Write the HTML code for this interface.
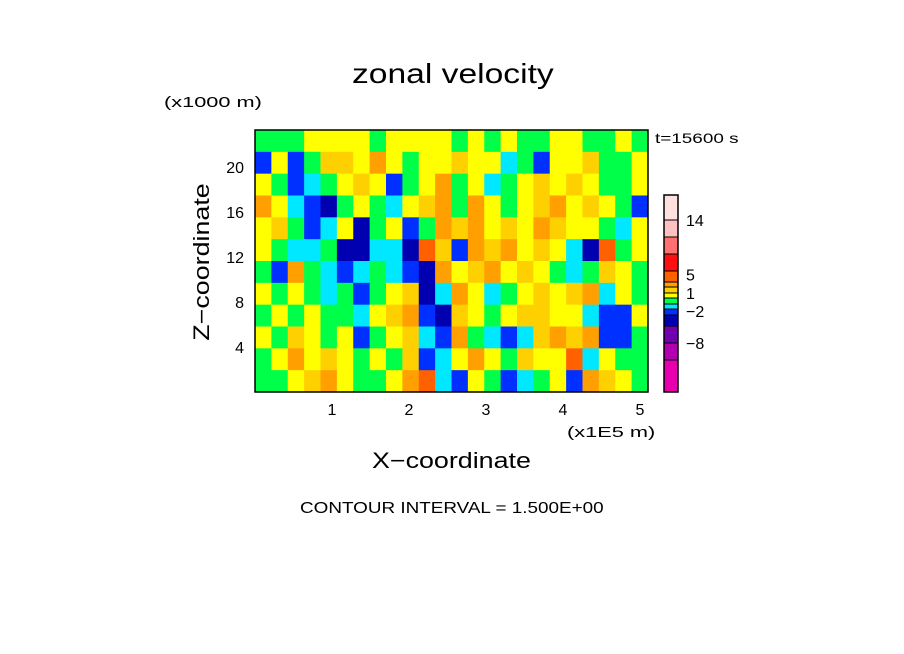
<!DOCTYPE html>
<html><head><meta charset="utf-8"><style>
body{margin:0;background:#fff;}
#c{position:relative;width:904px;height:654px;overflow:hidden;background:#fff;font-family:"Liberation Sans",sans-serif;color:#000}
.t{position:absolute;white-space:nowrap;transform-origin:0 0}
</style></head><body>
<div id="c">
<div class="t" style="left:352px;top:58px;font-size:28px;transform:scaleX(1.2)">zonal velocity</div>
<div class="t" style="left:164px;top:94px;font-size:15px;transform:scaleX(1.45)">(x1000 m)</div>
<div class="t" style="left:655px;top:130px;font-size:14px;transform:scaleX(1.35)">t=15600 s</div>
<div class="t" style="left:567px;top:424px;font-size:15px;transform:scaleX(1.45)">(x1E5 m)</div>
<div class="t" style="left:372px;top:448px;font-size:22px;transform:scaleX(1.22)">X&#8722;coordinate</div>
<div class="t" style="left:202px;top:262px;font-size:22px;transform:translate(-50%,-50%) rotate(-90deg) scaleX(1.22);transform-origin:50% 50%">Z&#8722;coordinate</div>
<div class="t" style="left:300px;top:500px;font-size:16px;transform:scaleX(1.18)">CONTOUR INTERVAL = 1.500E+00</div>
<svg id="s" width="904" height="654" style="position:absolute;left:0;top:0"></svg>
</div>
<script>
const xTicks=[1,2,3,4,5];
const zTicks=[4,8,12,16,20];
const cbLabels=["14","5","1","\u22122","\u22128"];
const cbLabelVals=[14,5,1,-2,-8];
const levelColors=["#e800b0","#b000b0","#7000b0","#0000b0","#0030ff","#00e8ff","#00ff48","#ffff00","#ffd000","#ffa000","#ff6000","#ff1010","#ff7070","#ffc0c0","#ffe0e0"];
const levelBounds=[-11,-9.5,-8,-6.5,-5,-3.5,-2,-0.5,1,2.5,4,5.5,7,10,13,17];
const codeVals={N:-5.7,B:-4.2,C:-2.7,G:-1.2,Y:0.2,L:1.7,O:3.2,R:4.7};
const fieldRows=[
"GGGYYYYGYYYYGYGYGGYYGGYG",
"BYBGLLYOYGYYLYYCGBYYLGGY",
"YGBCGYLYBGYOGYCGYLYLYGGY",
"OYCBNGYGCYLOGOYGYLOYLYGB",
"YLGBCYNGYBGOLOYLYOLYYGCY",
"YGCCGNNCCNRLBOLOYLYCNRGY",
"GBOGCBCGCBNOYLOYLYGCGLYG",
"YGYGCGBGYLNCOYCGYLYLOCYG",
"GYGYGGCYLOBNLYGYLLYYCBBY",
"YGLYGYBGYLCBOGCBCLOLOBBG",
"GYOYLYGYGLBCYOYGLYYRCYGG",
"GGYLOYGGYORCBYGBCGYBOLYG"];
const X0=255,X1=648,Y0=130,Y1=392,XMAX=(648-255)/77,ZMAX=(392-130)/11.25;
const sx=v=>X0+v/XMAX*(X1-X0), sz=v=>Y1-v/ZMAX*(Y1-Y0);
const svg=document.getElementById('s');const NS="http://www.w3.org/2000/svg";
function mk(t,a){const e=document.createElementNS(NS,t);for(const k in a)e.setAttribute(k,a[k]);svg.appendChild(e);return e;}
function colorFor(v){for(let i=0;i<levelColors.length;i++){if(v<levelBounds[i+1])return levelColors[i];}return levelColors[levelColors.length-1];}
const nr=fieldRows.length,nc=fieldRows[0].length;
for(let r=0;r<nr;r++)for(let c=0;c<nc;c++){
 const v=codeVals[fieldRows[r][c]];
 const x0=sx(c*XMAX/nc),x1=sx((c+1)*XMAX/nc),y0=sz(ZMAX-r*ZMAX/nr),y1=sz(ZMAX-(r+1)*ZMAX/nr);
 const e=mk('rect',{x:x0,y:y0,width:x1-x0+0.5,height:y1-y0+0.5,fill:colorFor(v)});
 
 
}
const fr=mk('rect',{x:X0,y:Y0,width:X1-X0,height:Y1-Y0,fill:'none',stroke:'#000','stroke-width':1.5});


xTicks.forEach(v=>{const t=mk('text',{x:sx(v),y:415,'font-size':16,'text-anchor':'middle','font-family':'Liberation Sans'});t.textContent=v;
 
 });
zTicks.forEach(v=>{const t=mk('text',{x:244,y:sz(v)+6,'font-size':16,'text-anchor':'end','font-family':'Liberation Sans'});t.textContent=v;
 
 });
const cbEdges=[392,360,343,326,315,309,304,298,293,287,282,271,254,237,220,195];
const CBX=664,CBW=14;
const cbY=v=>{for(let i=0;i<levelBounds.length-1;i++){if(v<=levelBounds[i+1]){const f=(v-levelBounds[i])/(levelBounds[i+1]-levelBounds[i]);return cbEdges[i]+(cbEdges[i+1]-cbEdges[i])*f;}}return 195;};
for(let i=0;i<levelColors.length;i++){
 const e=mk('rect',{x:CBX,y:cbEdges[i+1],width:CBW,height:cbEdges[i]-cbEdges[i+1],fill:levelColors[i],stroke:'#000','stroke-width':1});
 
 
}
const cbf=mk('rect',{x:CBX,y:195,width:CBW,height:197,fill:'none',stroke:'#000','stroke-width':1.5});


cbLabels.forEach((s,i)=>{const v=cbLabelVals[i];const off=(v===-2?13:(v===14?12:6));
 const t=mk('text',{x:686,y:cbY(v)+off,'font-size':16,'font-family':'Liberation Sans'});t.textContent=s;
 
 });
</script>
</body></html>
